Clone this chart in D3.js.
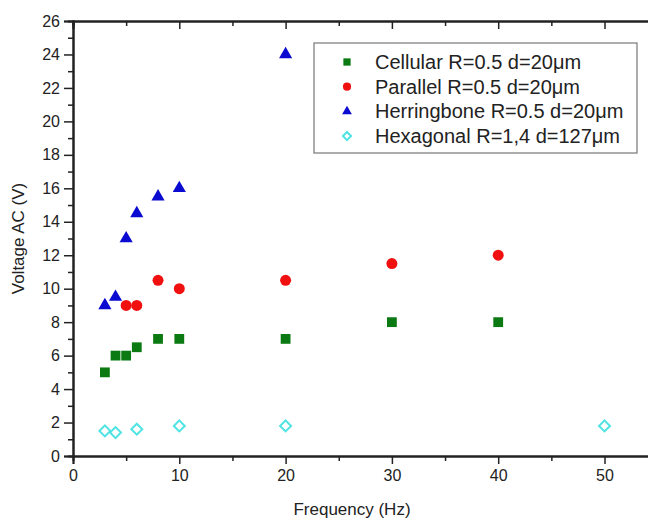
<!DOCTYPE html>
<html>
<head>
<meta charset="utf-8">
<script src="https://cdn.jsdelivr.net/npm/d3@7"></script>
<style>
  body { margin: 0; background: #fff; }
  svg { font-family: "Liberation Sans", Arial, sans-serif; }
</style>
</head>
<body>
<div id="chart"></div>
<script>
// Data
const cellularF = [3, 4, 5, 6, 8, 10, 20, 30, 40];
const cellularV = [5, 6, 6, 6.5, 7, 7, 7, 8, 8];
const parallelF = [5, 6, 8, 10, 20, 30, 40];
const parallelV = [9, 9, 10.5, 10, 10.5, 11.5, 12];
const herringF = [3, 4, 5, 6, 8, 10, 20];
const herringV = [9, 9.5, 13, 14.5, 15.5, 16, 24];
const hexF = [3, 4, 6, 10, 20, 50];
const hexV = [1.5, 1.4, 1.6, 1.8, 1.8, 1.8];
const seriesNames = [
  "Cellular R=0.5 d=20\u03bcm",
  "Parallel R=0.5 d=20\u03bcm",
  "Herringbone R=0.5 d=20\u03bcm",
  "Hexagonal R=1,4 d=127\u03bcm"
];
const xTicks = [0, 10, 20, 30, 40, 50];
const yTicks = [0, 2, 4, 6, 8, 10, 12, 14, 16, 18, 20, 22, 24, 26];

const w = 648, h = 519;
const padLeft = 73, padTop = 21, padBottom = 456;

const x = d3.scaleLinear().domain([0, 55]).range([padLeft, padLeft + 55 * 10.63]);
const y = d3.scaleLinear().domain([0, 26]).range([padBottom, padTop]);

const svg = d3.select("#chart").append("svg")
  .attr("width", w).attr("height", h);

const series = [
  { name: seriesNames[0], f: cellularF, v: cellularV, sym: d3.symbolSquare, size: 96, rot: 0, fill: "#0b7a12", stroke: "none" },
  { name: seriesNames[1], f: parallelF, v: parallelV, sym: d3.symbolCircle, size: 95, rot: 0, fill: "#f01010", stroke: "none" },
  { name: seriesNames[2], f: herringF, v: herringV, sym: d3.symbolTriangle, size: 75, rot: 0, fill: "#0a0ad0", stroke: "none" },
  { name: seriesNames[3], f: hexF, v: hexV, sym: d3.symbolSquare, size: 60, rot: 45, fill: "none", stroke: "#4fe3e3" }
];

// Axes
const minorX = [5, 15, 25, 35, 45, 55];
const xAxis = d3.axisBottom(x).tickValues(xTicks).tickSize(8).tickPadding(6);
const xMinor = d3.axisBottom(x).tickValues(minorX).tickSize(5).tickFormat("");
const yAxis = d3.axisLeft(y).tickValues(yTicks).tickSize(9).tickPadding(4);
const yMinor = d3.axisLeft(y).tickValues(d3.range(1, 26, 2)).tickSize(5).tickFormat("");
const topAxis = d3.axisBottom(x).tickValues(xTicks).tickSize(8).tickFormat("");
const topMinor = d3.axisBottom(x).tickValues(minorX).tickSize(5).tickFormat("");

function style(g) {
  g.selectAll("path, line").attr("stroke", "#222").attr("stroke-width", 1.5);
  g.selectAll("text").attr("fill", "#222").style("font-size", "16px");
}

svg.append("g").attr("transform", `translate(0,${padBottom})`).call(xAxis).call(style);
svg.append("g").attr("transform", `translate(0,${padBottom})`).call(xMinor).call(style);
svg.append("g").attr("transform", `translate(${padLeft},0)`).call(yAxis).call(style);
svg.append("g").attr("transform", `translate(${padLeft},0)`).call(yMinor).call(style);
svg.append("g").attr("transform", `translate(0,${padTop})`).call(topAxis).call(style);
svg.append("g").attr("transform", `translate(0,${padTop})`).call(topMinor).call(style);
svg.selectAll(".domain").attr("stroke-width", 2);

// Axis titles
svg.append("text")
  .attr("x", 352).attr("y", 515)
  .attr("text-anchor", "middle")
  .style("font-size", "17px").attr("fill", "#222")
  .text("Frequency (Hz)");
svg.append("text")
  .attr("transform", `translate(24,${(padTop + padBottom) / 2}) rotate(-90)`)
  .attr("text-anchor", "middle")
  .style("font-size", "17px").attr("fill", "#222")
  .text("Voltage AC (V)");

// Points
series.forEach(s => {
  svg.append("g").selectAll("path")
    .data(s.f.map((f, i) => [f, s.v[i]]))
    .enter().append("path")
    .attr("d", d3.symbol().type(s.sym).size(s.size))
    .attr("transform", d => `translate(${x(d[0])},${y(d[1])}) rotate(${s.rot})`)
    .attr("fill", s.fill)
    .attr("stroke", s.stroke)
    .attr("stroke-width", 2);
});

// Legend
const lg = svg.append("g");
lg.append("rect")
  .attr("x", 314).attr("y", 43).attr("width", 323).attr("height", 110)
  .attr("fill", "#fff").attr("stroke", "#777").attr("stroke-width", 1.2);
series.forEach((s, i) => {
  const cy = 62 + i * 24.7;
  lg.append("path")
    .attr("d", d3.symbol().type(s.sym).size(s.size * 0.55))
    .attr("transform", `translate(347,${cy}) rotate(${s.rot})`)
    .attr("fill", s.fill).attr("stroke", s.stroke).attr("stroke-width", 2);
  lg.append("text")
    .attr("x", 375).attr("y", cy + 7)
    .style("font-size", "20px").attr("fill", "#222")
    .text(s.name);
});
</script>
</body>
</html>
